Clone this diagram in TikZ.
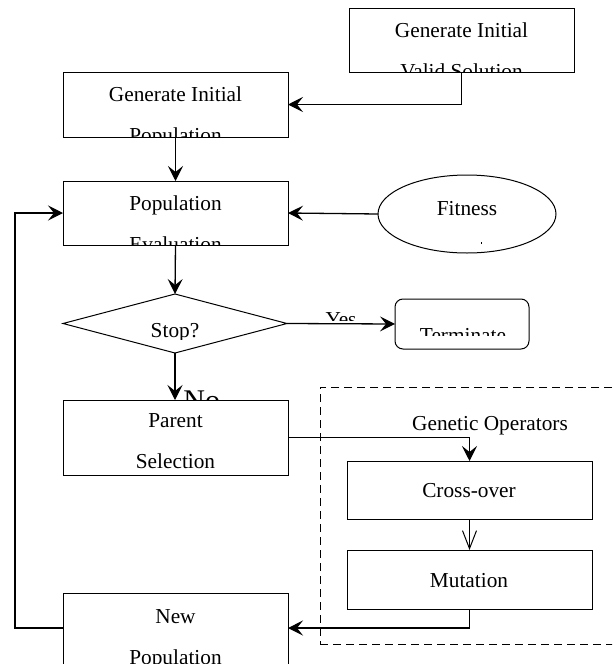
\documentclass[tikz,border=0pt]{standalone}
\usepackage{fontspec}
\setmainfont{Liberation Serif}
\usetikzlibrary{shapes.geometric,arrows.meta}
\begin{document}
\begin{tikzpicture}[x=0.5pt,y=-0.5pt,
  box/.style={draw, line width=0.5pt, inner sep=0pt, outer sep=0pt},
  lbl/.style={anchor=base, inner sep=0pt, font=\fontsize{10.65}{12}\selectfont},
  conn/.style={line width=0.65pt, -{Stealth[length=7.5pt,width=7.5pt,inset=3pt]}},
  barb/.style={line width=0.5pt, -{Straight Barb[length=9pt,width=7pt]}}
  ]
\clip (0,0) rectangle (612,664);
\fill[white] (0,0) rectangle (612,664);

% boxes
\node[box, minimum width=112.5pt, minimum height=32pt] (valid) at (461.5,40) {};
\node[box, minimum width=112.5pt, minimum height=32.5pt] (initpop) at (175.5,104.5) {};
\node[box, minimum width=112.5pt, minimum height=32pt] (eval) at (175.5,213) {};
\node[box, ellipse, minimum width=89pt, minimum height=39pt] (fit) at (467,214) {};
\node[box, diamond, aspect=3.8, minimum width=112pt, minimum height=29.5pt] (stop) at (175,323.5) {};
\node[box, rounded corners=4pt, minimum width=67pt, minimum height=25pt] (term) at (462,324) {};
\node[box, minimum width=112.5pt, minimum height=37.5pt] (parent) at (175.5,437.5) {};
\node[box, dash pattern=on 4pt off 2.5pt, minimum width=155pt, minimum height=128.5pt] (ops) at (475,515.5) {};
\node[box, minimum width=122.5pt, minimum height=29pt] (cross) at (469.5,490) {};
\node[box, minimum width=122.5pt, minimum height=29.5pt] (mut) at (469.5,579.5) {};
\node[box, minimum width=112.5pt, minimum height=37pt] (newpop) at (175.5,630) {};

% texts (clipped as in the reference)
\begin{scope}
  \clip (valid.north west) rectangle (valid.south east);
  \node[lbl] (t1) at (461.5,37) {Generate Initial};
  \node[lbl] (t2) at (461.5,78) {Valid Solution};
\end{scope}
\begin{scope}
  \clip (initpop.north west) rectangle (initpop.south east);
  \node[lbl] (t3) at (175.5,101) {Generate Initial};
  \node[lbl] (t4) at (175.5,142) {Population};
\end{scope}
\begin{scope}
  \clip (eval.north west) rectangle (eval.south east);
  \node[lbl] (t5) at (175.5,210) {Population};
  \node[lbl] (t6) at (175.5,251) {Evaluation};
\end{scope}
\node[lbl] (t7) at (467,215) {Fitness};
\fill (480.5,242) rectangle (482,243.5);
\begin{scope}
  \clip (60,300) rectangle (300,339);
  \node[lbl] (t8) at (175,337) {Stop?};
\end{scope}
\begin{scope}
  \clip (300,300) rectangle (390,320);
  \node[lbl] (t9) at (341,326) {Yes};
\end{scope}
\begin{scope}
  \clip (396,300) rectangle (528,335);
  \node[lbl] (t10) at (463,342) {Terminate};
\end{scope}
\begin{scope}
  \clip (180,380) rectangle (260,400);
  \node[anchor=base west, inner sep=0pt, font=\fontsize{15}{17}\selectfont] (t11) at (183,410) {No};
\end{scope}
\node[lbl] (t12) at (175.5,427) {Parent};
\node[lbl] (t13) at (175.5,468) {Selection};
\node[lbl] (t14) at (490,430) {Genetic Operators};
\node[lbl] (t15) at (469,497) {Cross-over};
\node[lbl] (t16) at (469,587) {Mutation};
\node[lbl] (t17) at (175.5,623) {New};
\node[lbl] (t18) at (175.5,664) {Population};

% connectors
\draw[conn] (valid.south) |- (initpop.east);
\draw[conn] (initpop.south) -- (eval.north);
\draw[conn] (fit.west) -- (eval.east);
\draw[conn] (eval.south) -- (stop.north);
\draw[conn] (stop.east) -- (term.west);
\draw[conn] (stop.south) -- (stop.south |- parent.north);
\draw[conn] (parent.east) -| (cross.north);
\draw[barb] (cross.south) -- (mut.north);
\draw[conn] (mut.south) |- ([yshift=1pt]newpop.east);
\coordinate (fb) at (15,628);
\draw[conn] ([yshift=1pt]newpop.west) -- (fb) |- (eval.west);
\end{tikzpicture}
\end{document}
